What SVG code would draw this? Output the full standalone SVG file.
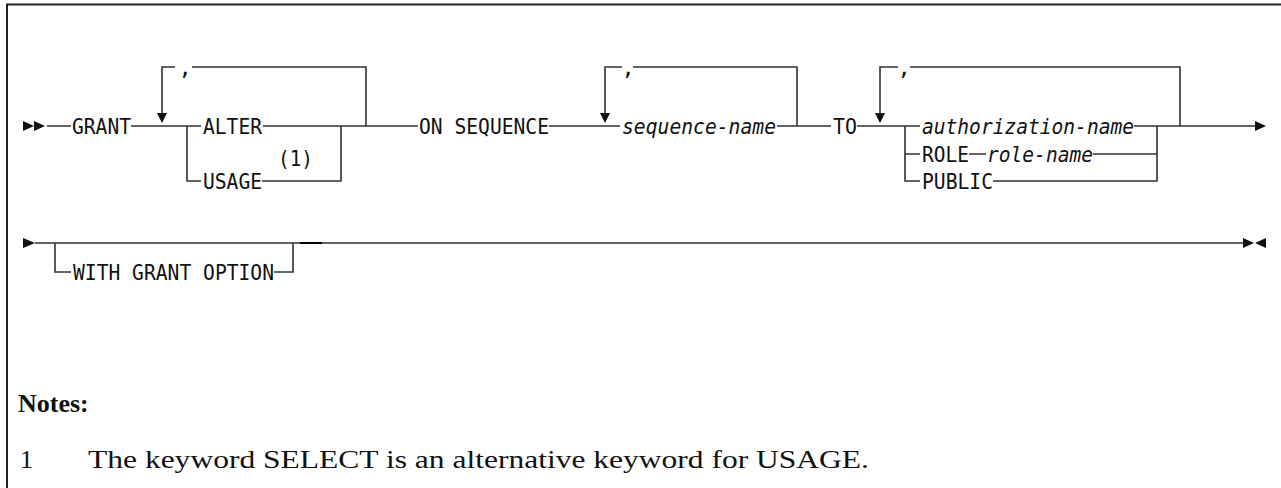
<svg xmlns="http://www.w3.org/2000/svg" width="1281" height="488" viewBox="0 0 1281 488">
<defs>
<style>
.ln{fill:none;stroke:#333;stroke-width:1.6}
.t{font-family:"DejaVu Sans Mono","Liberation Mono",monospace;font-size:22px;fill:#111}
.i{font-style:italic}
.ah{fill:#111}
.nt{font-family:"Liberation Serif",serif;font-size:26px;fill:#111}
</style>
</defs>
<rect x="0" y="0" width="1281" height="488" fill="#fff"/>
<path d="M7,488 V4.5 H1281" fill="none" stroke="#222" stroke-width="2"/>
<g id="connectors">
<path class="ln" d="M47,126 H71 M131,126 H201 M263,126 H418 M549,126 H620 M777,126 H831 M857,126 H920 M1134,126 H1256"/>
<path class="ln" d="M187,126 V181 H201 M262,181 H341 V126"/>
<path class="ln" d="M366,126 V67 H192 M175,67 H162 V114"/>
<path class="ln" d="M797,126 V67 H633 M622,67 H605 V114"/>
<path class="ln" d="M1180,126 V67 H910 M898,67 H880 V114"/>
<path class="ln" d="M905,126 V181 H920 M905,154 H920 M969,154 H986 M1093,154 H1157 M993,181 H1157 V126"/>
<path class="ln" d="M35,243 H1243 M55,243 V272 H71 M274,272 H293 V243"/>
<path d="M300,243 H322" stroke="#000" stroke-width="2"/>
</g>
<g id="markers">
<path class="ah" d="M23,121 L34,126 L23,131 Z M34,121 L45,126 L34,131 Z"/>
<path class="ah" d="M157,113 L167,113 L162,123 Z M600,113 L610,113 L605,123 Z M875,113 L885,113 L880,123 Z"/>
<path class="ah" d="M1255,121 L1266,126 L1255,131 Z"/>
<path class="ah" d="M23,238 L35,243 L23,248 Z"/>
<path class="ah" d="M1243,238 L1254,243 L1243,248 Z M1266,238 L1255,243 L1266,248 Z"/>
</g>
<g id="commas">
<text class="t" x="185" y="75" text-anchor="middle">,</text>
<text class="t" x="628" y="75" text-anchor="middle">,</text>
<text class="t" x="904" y="75" text-anchor="middle">,</text>
</g>
<g id="n-grant"><text class="t" x="72" y="134" textLength="59" lengthAdjust="spacingAndGlyphs">GRANT</text></g>
<g id="n-alter"><text class="t" x="203" y="134" textLength="59" lengthAdjust="spacingAndGlyphs">ALTER</text></g>
<g id="n-fn1"><text class="t" x="278" y="166" textLength="35" lengthAdjust="spacingAndGlyphs">(1)</text></g>
<g id="n-usage"><text class="t" x="203" y="189" textLength="59" lengthAdjust="spacingAndGlyphs">USAGE</text></g>
<g id="n-onseq"><text class="t" x="419" y="134" textLength="130" lengthAdjust="spacingAndGlyphs">ON SEQUENCE</text></g>
<g id="n-seqname"><text class="t i" x="622" y="134" textLength="154" lengthAdjust="spacingAndGlyphs">sequence-name</text></g>
<g id="n-to"><text class="t" x="833" y="134" textLength="24" lengthAdjust="spacingAndGlyphs">TO</text></g>
<g id="n-authname"><text class="t i" x="922" y="134" textLength="212" lengthAdjust="spacingAndGlyphs">authorization-name</text></g>
<g id="n-role"><text class="t" x="922" y="162" textLength="47" lengthAdjust="spacingAndGlyphs">ROLE</text><text class="t i" x="987" y="162" textLength="106" lengthAdjust="spacingAndGlyphs">role-name</text></g>
<g id="n-public"><text class="t" x="922" y="189" textLength="71" lengthAdjust="spacingAndGlyphs">PUBLIC</text></g>
<g id="n-wgo"><text class="t" x="73" y="280" textLength="201" lengthAdjust="spacingAndGlyphs">WITH GRANT OPTION</text></g>
<g id="notes">
<text class="nt" x="18" y="412" font-size="23" font-weight="bold">Notes:</text>
<text class="nt" x="20" y="468">1</text>
<text class="nt" x="88" y="468" textLength="781" lengthAdjust="spacingAndGlyphs">The keyword SELECT is an alternative keyword for USAGE.</text>
</g>
</svg>
